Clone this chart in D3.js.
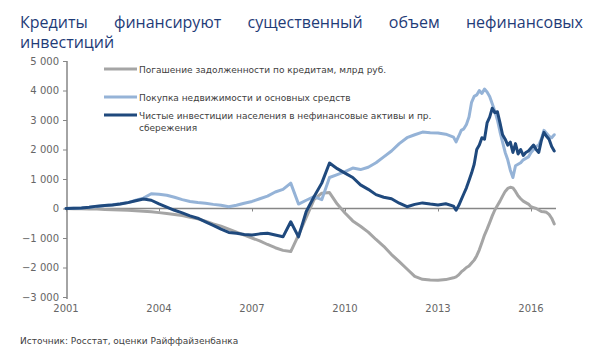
<!DOCTYPE html>
<html><head><meta charset="utf-8">
<script src="https://cdn.jsdelivr.net/npm/d3@7"></script>
<style>body{margin:0;background:#fff}svg{display:block}</style>
</head><body>
<svg id="c" width="597" height="358"></svg>
<script>
// ---- DATA ----
const titleLine1 = ["Кредиты","финансируют","существенный","объем","нефинансовых"];
const titleLine2 = "инвестиций";
const sourceText = "Источник: Росстат, оценки Райффайзенбанка";
const seriesNames = [
  "Погашение задолженности по кредитам, млрд руб.",
  "Покупка недвижимости и основных средств",
  "Чистые инвестиции населения в нефинансовые активы и пр.|сбережения"
];
const xTicks = [2001, 2004, 2007, 2010, 2013, 2016];
const yTicks = [5000, 4000, 3000, 2000, 1000, 0, -1000, -2000, -3000];
// quarterly 2001.0 .. 2013.5, then monthly to 2016.75
const dates = [
 2001.0,2001.25,2001.5,2001.75,2002.0,2002.25,2002.5,2002.75,2003.0,2003.25,2003.5,2003.75,
 2004.0,2004.25,2004.5,2004.75,2005.0,2005.25,2005.5,2005.75,2006.0,2006.25,2006.5,2006.75,
 2007.0,2007.25,2007.5,2007.75,2008.0,2008.25,2008.5,2008.75,2009.0,2009.25,2009.5,2009.75,
 2010.0,2010.25,2010.5,2010.75,2011.0,2011.25,2011.5,2011.75,2012.0,2012.25,2012.5,2012.75,
 2013.0,2013.25,2013.5,
 2013.583,2013.667,2013.75,2013.833,2013.917,
 2014.0,2014.083,2014.167,2014.25,2014.333,2014.417,2014.5,2014.583,2014.667,2014.75,2014.833,2014.917,
 2015.0,2015.083,2015.167,2015.25,2015.333,2015.417,2015.5,2015.583,2015.667,2015.75,2015.833,2015.917,
 2016.0,2016.083,2016.167,2016.25,2016.333,2016.417,2016.5,2016.583,2016.667,2016.75
];
const repayment = [
 0,-5,-10,-15,-20,-30,-40,-50,-60,-75,-90,-110,
 -140,-170,-200,-240,-300,-350,-430,-520,-600,-700,-800,-900,
 -1000,-1100,-1220,-1330,-1420,-1460,-900,-300,300,520,540,150,
 -150,-420,-600,-800,-1050,-1280,-1560,-1800,-2050,-2300,-2400,-2420,
 -2430,-2410,-2350,
 -2320,-2250,-2150,-2080,-2000,
 -1950,-1850,-1750,-1600,-1400,-1150,-900,-700,-480,-250,-50,100,
 250,420,580,680,720,700,580,430,330,250,200,150,
 60,30,0,-50,-100,-110,-130,-200,-330,-520
];
const realEstate = [
 0,10,20,40,70,100,130,160,200,280,350,500,
 480,450,380,300,240,200,180,140,110,60,110,180,
 240,330,420,560,650,860,150,280,400,300,1050,1150,
 1250,1370,1320,1400,1550,1750,1950,2200,2400,2500,2590,2570,
 2560,2520,2420,
 2260,2450,2650,2700,2850,
 3100,3600,3800,3850,4000,3900,4050,3950,3800,3550,3300,3000,
 2600,2250,1900,1650,1300,1050,1450,1500,1550,1650,1700,1750,
 1900,2000,2100,2150,2350,2650,2550,2450,2400,2500
];
const netInvest = [
 0,10,20,40,80,100,120,150,200,260,320,280,
 160,50,-60,-150,-250,-330,-450,-570,-700,-810,-840,-880,
 -900,-860,-840,-900,-960,-450,-960,-100,400,860,1540,1350,
 1200,1050,800,650,470,380,330,180,60,140,190,150,
 120,160,80,
 -60,100,300,500,700,
 950,1200,1500,2000,2150,2400,2350,2900,3100,3400,3250,3280,
 2900,2500,2350,2150,2250,1900,2200,1850,2000,1800,1900,1950,
 2050,2150,2000,1900,2300,2580,2450,2350,2100,1950
];
const seriesValues = [repayment, realEstate, netInvest];
const seriesColors = ["#a5a5a5", "#95b3d7", "#1f497d"];

// ---- CHART ----
const svg = d3.select("#c");
const font = "'DejaVu Sans', sans-serif";
const x = d3.scaleLinear().domain([2001, 2017]).range([66, 562]);
const y = d3.scaleLinear().domain([-3000, 5000]).range([297, 61]);
const fmt = v => d3.format(",")(v).replace(/,/g, " ");

// title (justified line 1)
const tg = svg.append("g").attr("font-family", "'Open Sans', sans-serif").attr("font-size", 16).attr("fill", "#1f3c78");
const words = tg.selectAll("text.w").data(titleLine1).join("text").attr("class","w").attr("y", 28).text(d => d);
const widths = []; words.each(function(){ widths.push(this.getComputedTextLength()); });
const left = 20, right = 583;
const gap = (right - left - d3.sum(widths)) / (widths.length - 1);
let cx = left;
words.attr("x", (d,i) => { const p = cx; cx += widths[i] + gap; return p; });
tg.append("text").attr("x", left).attr("y", 48).text(titleLine2);

// y axis
const ya = svg.append("g").attr("transform", "translate(67,0)")
  .call(d3.axisLeft(y).tickValues(yTicks).tickSize(4).tickPadding(4).tickFormat(fmt));
ya.select(".domain").attr("stroke", "#868686").attr("stroke-width", 1.5).attr("d", "M0,61V299");
ya.selectAll(".tick line").attr("stroke", "#868686");
ya.selectAll(".tick text").attr("fill", "#666666").attr("font-family", font).attr("font-size", 10);

// x axis (line at zero, labels at bottom)
const xa = svg.append("g").attr("transform", `translate(0,${y(0)})`)
  .call(d3.axisBottom(x).tickValues(xTicks).tickSize(3).tickFormat(""));
xa.select(".domain").attr("stroke", "#868686").attr("stroke-width", 1.5).attr("d", `M66,0H556`);
xa.selectAll(".tick line").attr("stroke", "#868686");
svg.append("g").selectAll("text").data(xTicks).join("text")
  .attr("x", d => x(d)).attr("y", 312).attr("text-anchor", "middle")
  .attr("font-family", font).attr("font-size", 10).attr("fill", "#666666").text(d => d);

// lines
const line = d3.line().x((d,i) => x(dates[i])).y(d => y(d)).curve(d3.curveLinear);
svg.append("g").selectAll("path").data(seriesValues).join("path")
  .attr("d", d => line(d)).attr("fill", "none")
  .attr("stroke", (d,i) => seriesColors[i]).attr("stroke-width", 3)
  .attr("stroke-linejoin", "round").attr("stroke-linecap", "round");

// legend
const legY = [69, 97, 115];
const lg = svg.append("g").attr("font-family", font).attr("font-size", 9).attr("fill", "#404040");
seriesNames.forEach((name, i) => {
  lg.append("line").attr("x1", 104).attr("x2", 137).attr("y1", legY[i]).attr("y2", legY[i])
    .attr("stroke", seriesColors[i]).attr("stroke-width", 3);
  name.split("|").forEach((part, j) => {
    lg.append("text").attr("x", 139).attr("y", legY[i] + 3.5 + j * 12).text(part);
  });
});

// source
svg.append("text").attr("x", 20).attr("y", 344).attr("font-family", font).attr("font-size", 9)
  .attr("fill", "#404040").text(sourceText);
</script>
</body></html>
